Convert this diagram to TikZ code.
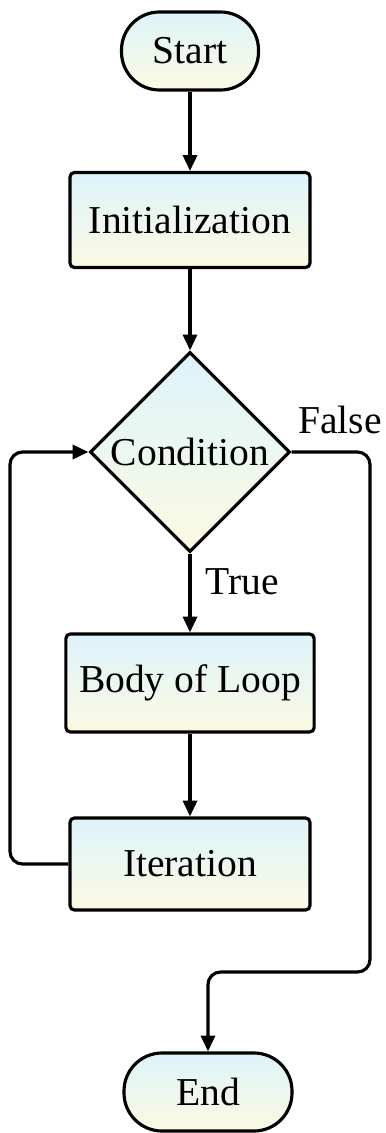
\documentclass[tikz,border=0pt]{standalone}
\usepackage{fontspec}
\setmainfont{Liberation Serif}
\usetikzlibrary{shapes.geometric,shapes.misc,arrows.meta}
\definecolor{boxtop}{HTML}{DDF4FB}
\definecolor{boxbot}{HTML}{FCFAE2}
\begin{document}
\begin{tikzpicture}[scale=1]
	\tikzset{flow/.style={line width=1.8pt,-{Triangle[length=9pt,width=8pt]}},
		box/.style={shape=rectangle,draw=black,line width=1.8pt,rounded corners=2.5pt,top color=boxtop,bottom color=boxbot,minimum width=4.8cm,minimum height=1.9cm},
		term/.style={shape=rectangle,draw=black,line width=1.8pt,rounded corners=0.76cm,top color=boxtop,bottom color=boxbot,minimum height=1.56cm}}
	\useasboundingbox (0,0) rectangle (7.7,-22.66);
	\fontsize{22.5}{26}\selectfont

	\node[term, minimum width=2.74cm] (1) at (3.8,-1.02) {Start};
	\node[box] (2) at (3.8,-4.4) {Initialization};
	\node[shape=diamond,draw=black,line width=1.8pt,top color=boxtop,bottom color=boxbot,minimum width=4cm,minimum height=4cm,inner sep=0pt] (3) at (3.8,-9.04) {Condition};
	\node[box, minimum height=1.96cm] (4) at (3.8,-13.66) {Body of Loop};
	\node[box, minimum height=1.84cm] (5) at (3.8,-17.28) {Iteration};
	\node[term, minimum width=3.36cm] (6) at (4.16,-21.84) {End};

	\node[draw=none] (true) at (4.84,-11.64) {True};
	\node[draw=none] (false) at (6.8,-8.4) {False};

	\coordinate (back) at (0.2,-9.04);
	\coordinate (down) at (7.4,-19.44);

	\draw[flow] (1) -- (2);
	\draw[flow] (2) -- (3);
	\draw[flow] (3) -- (4);
	\draw[flow] (4) -- (5);
	\draw[flow,rounded corners=0.25cm] (5.west) -| (back) -- (3.west);
	\draw[flow,rounded corners=0.25cm] (3.east) -| (down) -| (6.north);

\end{tikzpicture}
\end{document}
